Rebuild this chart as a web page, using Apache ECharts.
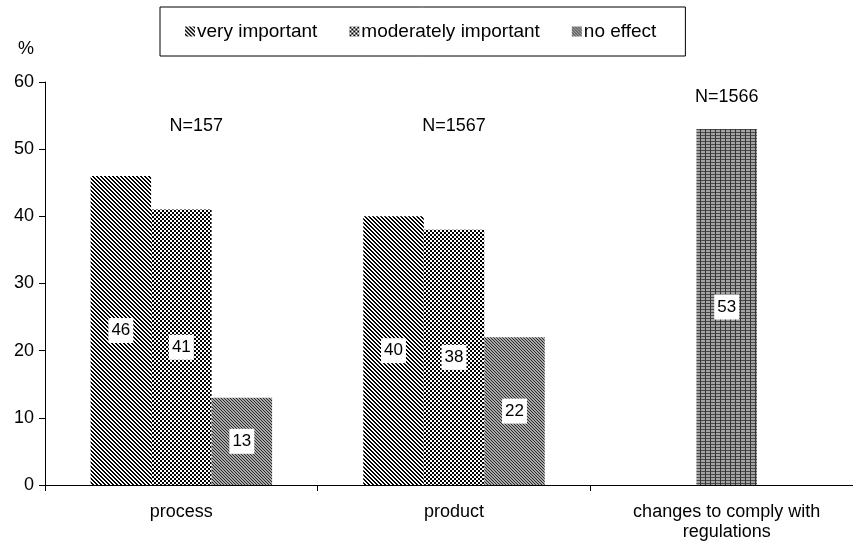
<!DOCTYPE html>
<html>
<head>
<meta charset="utf-8">
<script src="https://cdn.jsdelivr.net/npm/echarts@6/dist/echarts.min.js"></script>
<style>
  html, body { margin: 0; padding: 0; background: #fff; overflow: hidden; }
  /* the plot runs a little past the right window edge, so the canvas is wider than the window */
  #chart { width: 880px; height: 542px; }
</style>
</head>
<body>
<div id="chart"></div>
<script>
// Categories and values (percent of respondents)
var categories = ['process', 'product', 'changes to comply with\nregulations'];
var veryImportant = [46, 40, '-'];
var moderatelyImportant = [41, 38, '-'];
var noEffect = [13, 22, '-'];
var regulationChanges = ['-', '-', 53];
var sampleSizes = ['N=157', 'N=1567', 'N=1566'];
var sampleLabelLevel = [53.5, 53.5, 57.8];
var yTicks = { min: 0, max: 60, interval: 10 };

var FONT = '"Liberation Sans", Arial, sans-serif';

// Small canvas tiles used as hatch fills
function tile(w, h, pick) {
  var c = document.createElement('canvas');
  c.width = w; c.height = h;
  var ctx = c.getContext('2d');
  for (var y = 0; y < h; y++) {
    for (var x = 0; x < w; x++) {
      ctx.fillStyle = pick(x, y);
      ctx.fillRect(x, y, 1, 1);
    }
  }
  return { image: c, repeat: 'repeat' };
}
var diagonalFill = tile(4, 4, function (x, y) {
  return (((x - y) % 4 + 4) % 4) < 2 ? '#000' : '#fff';
});
var checkerFill = tile(4, 4, function (x, y) {
  return (((x >> 1) + (y >> 1)) % 2 === 0) ? '#000' : '#fff';
});
var fineHatchFill = tile(3, 3, function (x, y) {
  return (((x - y) % 3 + 3) % 3) === 0 ? '#2a2a2a' : '#a8a8a8';
});
var gridFill = tile(5, 3, function (x, y) {
  if (x % 5 === 0) return '#333';
  return y % 3 === 0 ? '#4a4a4a' : '#a4a4a4';
});

var barLabel = {
  show: true,
  position: 'inside',
  color: '#000',
  fontFamily: FONT,
  fontSize: 17,
  backgroundColor: '#fff',
  padding: [5, 3, 3, 3]
};

var chart = echarts.init(document.getElementById('chart'), null, { renderer: 'canvas' });

chart.setOption({
  animation: false,
  backgroundColor: '#fff',
  textStyle: { fontFamily: FONT, color: '#000' },
  title: {
    text: '%',
    left: 13, top: 35,
    textStyle: { fontFamily: FONT, fontSize: 18, fontWeight: 'normal', color: '#000' }
  },
  legend: {
    left: 160, top: 7,
    padding: [15, 29, 15, 25],
    borderColor: '#000', borderWidth: 1,
    itemWidth: 10, itemHeight: 10, itemGap: 32,
    icon: 'rect',
    textStyle: { fontFamily: FONT, fontSize: 19, color: '#000', padding: [0, 0, 0, -3] },
    data: ['very important', 'moderately important', 'no effect']
  },
  grid: { left: 45, width: 818, top: 82, bottom: 57, containLabel: false },
  xAxis: [{
    type: 'category',
    data: categories,
    axisLine: { lineStyle: { color: '#000', width: 1 } },
    axisTick: { show: true, length: 6, lineStyle: { color: '#000' } },
    axisLabel: { color: '#000', fontFamily: FONT, fontSize: 18, margin: 17, interval: 0, lineHeight: 20 }
  }, {
    type: 'category',
    data: categories,
    show: false
  }],
  yAxis: {
    type: 'value',
    min: yTicks.min, max: yTicks.max, interval: yTicks.interval,
    axisLine: { show: true, lineStyle: { color: '#000', width: 1 } },
    axisTick: { show: true, length: 6, lineStyle: { color: '#000' } },
    axisLabel: { color: '#000', fontFamily: FONT, fontSize: 18, margin: 11 },
    splitLine: { show: false }
  },
  series: [{
    name: 'very important', type: 'bar', xAxisIndex: 0,
    data: veryImportant, barWidth: 60.5, barGap: '0%',
    itemStyle: { color: diagonalFill },
    label: barLabel
  }, {
    name: 'moderately important', type: 'bar', xAxisIndex: 0,
    data: moderatelyImportant, barWidth: 60.5, barGap: '0%',
    itemStyle: { color: checkerFill },
    label: barLabel
  }, {
    name: 'no effect', type: 'bar', xAxisIndex: 0,
    data: noEffect, barWidth: 60.5, barGap: '0%',
    itemStyle: { color: fineHatchFill },
    label: barLabel
  }, {
    name: 'changes', type: 'bar', xAxisIndex: 1,
    data: regulationChanges, barWidth: 60.5,
    itemStyle: { color: gridFill },
    label: barLabel
  }]
});

// Sample-size annotations above each group
var nOffsets = [15, 0, 0];
var nGraphics = sampleSizes.map(function (txt, i) {
  var p = chart.convertToPixel({ xAxisIndex: 0, yAxisIndex: 0 }, [i, sampleLabelLevel[i]]);
  return {
    type: 'text',
    x: p[0] + nOffsets[i], y: p[1],
    style: {
      text: txt, fill: '#000', font: '18px ' + FONT,
      textAlign: 'center', textVerticalAlign: 'middle'
    }
  };
});
chart.setOption({ graphic: nGraphics });
</script>
</body>
</html>
